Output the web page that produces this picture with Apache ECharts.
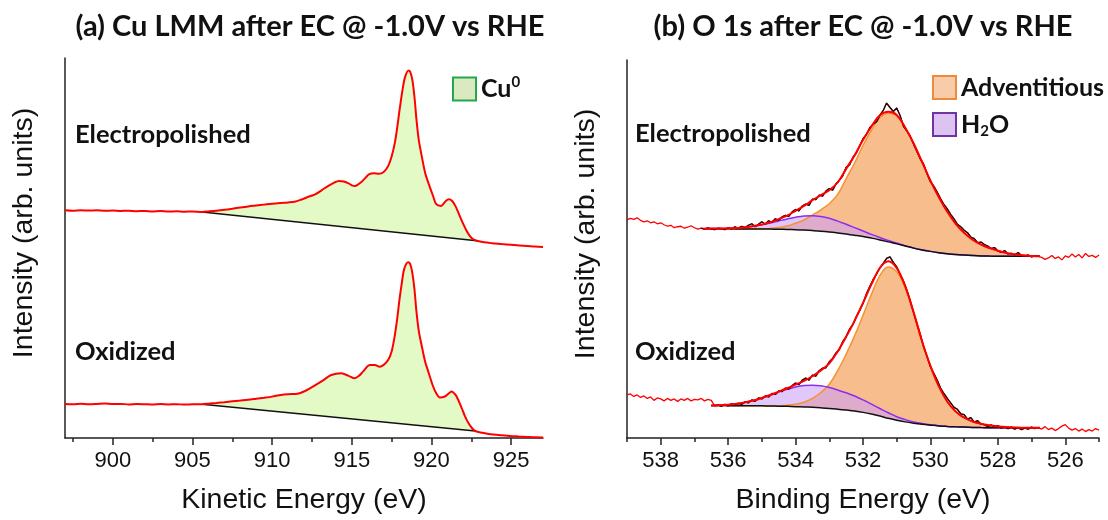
<!DOCTYPE html>
<html>
<head>
<meta charset="utf-8">
<script src="https://cdn.jsdelivr.net/npm/echarts@6/dist/echarts.min.js"></script>
<style>
  html, body { margin: 0; padding: 0; background: #fff; }
  #chart { width: 1108px; height: 520px; }
</style>
</head>
<body>
<div id="chart"></div>
<script>
// ---------- (a) Cu LMM Auger: kinetic energy (eV) / intensity (arb. units, stacked offsets) ----------
const cuKE_ep = [897.0, 897.5, 898.0, 898.5, 899.0, 899.5, 900.0, 900.5, 901.0, 901.5, 902.0, 902.5, 903.0, 903.5, 904.0, 904.5, 905.0, 905.6,
  906.0, 906.5, 907.0, 907.5, 908.0, 908.5, 909.0, 909.5, 910.0, 910.5, 911.0, 911.4, 911.8, 912.2, 912.7, 913.1, 913.5, 913.9,
  914.2, 914.5, 914.8, 915.0, 915.2, 915.4, 915.6, 915.85, 916.1, 916.4, 916.7, 917.0, 917.28, 917.5, 917.7, 917.85, 918.0,
  918.2, 918.35, 918.56, 918.66, 918.8, 918.93, 919.06, 919.2, 919.39, 919.6, 919.8, 920.1, 920.3, 920.6, 920.9, 921.1, 921.3,
  921.5, 921.77, 922.0, 922.2, 922.4, 922.6, 922.84, 923.3, 923.8, 924.4, 925.0, 925.5, 926.0, 926.5, 927.0];
const cuInt_ep = [229.0, 228.5, 229.0, 228.6, 228.9, 228.4, 228.7, 228.2, 228.5, 228.0, 228.3, 227.8, 228.1, 227.6, 227.9, 227.5, 227.7, 227.3,
  227.8, 228.5, 229.4, 230.5, 231.7, 232.8, 233.7, 234.6, 235.5, 236.2, 236.8, 237.5, 239.5, 242.0, 245.0, 249.0, 253.3, 256.8,
  258.3, 257.8, 256.0, 254.0, 253.3, 255.0, 257.3, 261.5, 265.3, 266.2, 265.7, 267.5, 273.3, 283.0, 296.7, 312.0, 330.0,
  351.7, 363.3, 369.5, 368.3, 360.0, 343.3, 320.0, 300.0, 283.3, 266.7, 256.7, 243.3, 235.0, 233.3, 238.3, 240.0, 238.3,
  233.3, 223.3, 215.0, 208.3, 203.3, 200.0, 198.3, 196.7, 195.8, 195.0, 194.2, 193.5, 193.0, 192.4, 192.0];
const cuBg_ep = [[905.6, 227.3], [922.84, 198.3]];

const cuKE_ox = [897.0, 897.5, 898.0, 898.5, 899.0, 899.5, 900.0, 900.5, 901.0, 901.5, 902.0, 902.5, 903.0, 903.5, 904.0, 904.5, 905.0, 905.6,
  906.0, 906.5, 907.0, 907.5, 908.0, 908.5, 909.0, 909.5, 910.0, 910.56, 911.0, 911.6, 912.1, 912.66, 913.2, 913.71, 914.34,
  914.8, 915.18, 915.45, 915.7, 916.12, 916.45, 916.75, 917.0, 917.28, 917.5, 917.7, 917.85, 918.0, 918.15, 918.29, 918.54,
  918.66, 918.79, 918.93, 919.06, 919.2, 919.38, 919.6, 919.8, 920.1, 920.3, 920.53, 920.84, 921.1, 921.27, 921.45, 921.58,
  921.9, 922.1, 922.32, 922.55, 922.75, 923.2, 923.58, 924.4, 925.0, 925.5, 926.0, 926.5, 927.0];
const cuInt_ox = [34.3, 34.0, 34.4, 33.9, 34.2, 34.6, 34.1, 34.3, 33.8, 34.2, 34.0, 33.7, 34.1, 33.8, 34.0, 33.6, 33.9, 34.0,
  34.5, 35.2, 36.0, 36.9, 37.7, 38.5, 39.5, 40.5, 41.6, 43.3, 44.0, 44.5, 47.5, 52.7, 58.0, 63.3, 65.0,
  62.5, 60.0, 62.5, 66.7, 73.3, 73.5, 71.7, 73.5, 78.3, 87.0, 103.3, 120.0, 140.0, 157.0, 170.0, 176.7,
  175.0, 166.7, 150.0, 126.7, 108.0, 93.3, 77.0, 66.7, 52.0, 45.0, 40.7, 41.7, 45.0, 46.7, 44.5, 41.7,
  30.0, 22.0, 15.0, 9.8, 7.0, 5.2, 4.0, 2.7, 2.0, 1.5, 1.1, 0.7, 0.5];
const cuBg_ox = [[905.6, 34.0], [922.75, 7.0]];

const keTicks = [900, 905, 910, 915, 920, 925];
const keMinor = [897.5, 902.5, 907.5, 912.5, 917.5, 922.5];

// ---------- (b) O 1s: binding energy (eV) ----------
// peak-fit grid, Shirley background and component heights above it
const o1sGrid_ep = [536.75, 536.5, 536.25, 536.0, 535.75, 535.5, 535.25, 535.0, 534.75, 534.5, 534.25, 534.0, 533.75, 533.5,
  533.25, 533.0, 532.75, 532.5, 532.25, 532.0, 531.75, 531.5, 531.25, 531.0, 530.75, 530.5, 530.25, 530.0, 529.75, 529.5,
  529.25, 529.0, 528.75, 528.5, 528.25, 528.0, 527.75, 527.5, 527.25, 527.0, 526.75];
const o1sBg_ep = [211.5, 211.5, 211.4, 211.4, 211.3, 211.3, 211.3, 211.2, 211.1, 211.0, 210.8, 210.5, 210.1, 209.6,
  209.0, 208.2, 207.2, 206.1, 204.9, 203.6, 202.0, 200.2, 198.2, 196.2, 194.0, 191.9, 190.1, 188.6, 187.3, 186.3,
  185.5, 184.9, 184.4, 184.0, 183.8, 183.7, 183.6, 183.6, 183.6, 183.6, 183.6];
const o1sAdv_ep = [0, 0, 0, 0, 0, 0, 0.1, 0.3, 0.7, 1.8, 3.4, 6.5, 10.2, 15.7,
  21.6, 28.5, 39.0, 56.0, 73.0, 92.0, 109.0, 123.5, 130.0, 129.5, 119.5, 105.8, 89.0, 71.5, 56.0, 42.3,
  31.0, 22.5, 15.9, 11.5, 8.2, 5.6, 3.4, 2.1, 1.1, 0.4, 0.1];
const o1sH2O_ep = [0, 0.1, 0.2, 0.5, 0.9, 1.7, 2.8, 4.3, 6.2, 8.4, 10.6, 12.6, 14.2, 15.0,
  14.8, 13.8, 12.0, 9.9, 7.7, 5.6, 3.8, 2.4, 1.4, 0.8, 0.4, 0.2, 0.1, 0, 0, 0,
  0, 0, 0, 0, 0, 0, 0, 0, 0, 0, 0];

const o1sGrid_ox = [536.5, 536.25, 536.0, 535.75, 535.5, 535.25, 535.0, 534.75, 534.5, 534.25, 534.0, 533.75, 533.5,
  533.25, 533.0, 532.75, 532.5, 532.25, 532.0, 531.75, 531.5, 531.25, 531.0, 530.75, 530.5, 530.25, 530.0, 529.75, 529.5,
  529.25, 529.0, 528.75, 528.5, 528.25, 528.0, 527.75, 527.5, 527.25, 527.0, 526.75];
const o1sBg_ox = [32.8, 32.8, 32.7, 32.7, 32.7, 32.6, 32.5, 32.4, 32.2, 32.0, 31.7, 31.4, 31.0,
  30.5, 29.9, 29.1, 28.2, 27.2, 25.9, 24.2, 22.2, 19.9, 17.9, 16.3, 15.0, 13.9, 13.0, 12.2, 11.7,
  11.3, 11.0, 10.7, 10.5, 10.4, 10.3, 10.3, 10.3, 10.3, 10.3, 10.3];
const o1sAdv_ox = [0, 0, 0, 0, 0, 0, 0, 0, 0.4, 1.0, 2.4, 4.8, 9.0,
  15.5, 24.5, 39.0, 56.5, 76.0, 98.0, 121.0, 142.0, 153.0, 150.0, 135.0, 111.0, 83.5, 59.5, 39.8, 25.0,
  15.5, 9.5, 6.0, 3.8, 2.4, 1.4, 0.7, 0.3, 0.1, 0, 0];
const o1sH2O_ox = [0.1, 0.3, 0.9, 1.8, 3.3, 5.3, 8.0, 11.0, 14.2, 17.3, 19.9, 21.6, 22.4,
  22.3, 21.1, 19.4, 17.5, 15.2, 12.6, 10.0, 7.6, 5.6, 3.6, 2.3, 1.3, 0.7, 0.3, 0.1, 0,
  0, 0, 0, 0, 0, 0, 0, 0, 0, 0, 0];

// measured O 1s spectra, 0.1 eV steps
const o1sRawBE = [
  539.0, 538.9, 538.8, 538.7, 538.6, 538.5, 538.4, 538.3, 538.2, 538.1,
  538.0, 537.9, 537.8, 537.7, 537.6, 537.5, 537.4, 537.3, 537.2, 537.1,
  537.0, 536.9, 536.8, 536.7, 536.6, 536.5, 536.4, 536.3, 536.2, 536.1,
  536.0, 535.9, 535.8, 535.7, 535.6, 535.5, 535.4, 535.3, 535.2, 535.1,
  535.0, 534.9, 534.8, 534.7, 534.6, 534.5, 534.4, 534.3, 534.2, 534.1,
  534.0, 533.9, 533.8, 533.7, 533.6, 533.5, 533.4, 533.3, 533.2, 533.1,
  533.0, 532.9, 532.8, 532.7, 532.6, 532.5, 532.4, 532.3, 532.2, 532.1,
  532.0, 531.9, 531.8, 531.7, 531.6, 531.5, 531.4, 531.3, 531.2, 531.1,
  531.0, 530.9, 530.8, 530.7, 530.6, 530.5, 530.4, 530.3, 530.2, 530.1,
  530.0, 529.9, 529.8, 529.7, 529.6, 529.5, 529.4, 529.3, 529.2, 529.1,
  529.0, 528.9, 528.8, 528.7, 528.6, 528.5, 528.4, 528.3, 528.2, 528.1,
  528.0, 527.9, 527.8, 527.7, 527.6, 527.5, 527.4, 527.3, 527.2, 527.1,
  527.0, 526.9, 526.8, 526.7, 526.6, 526.5, 526.4, 526.3, 526.2, 526.1,
  526.0, 525.9, 525.8, 525.7, 525.6, 525.5, 525.4, 525.3, 525.2, 525.1,
  525.0];
const o1sRaw_ep = [
  220.5, 222.0, 221.0, 222.5, 220.0, 218.5, 219.5, 217.5, 218.5, 216.5,
  217.5, 215.5, 214.0, 215.0, 212.5, 213.5, 214.0, 212.0, 213.0, 214.5,
  212.5, 211.0, 212.0, 211.0, 212.5, 211.0, 210.5, 212.0, 211.5, 210.5,
  212.5, 211.0, 213.5, 212.0, 214.0, 212.5, 215.0, 216.5, 213.5, 216.0,
  218.5, 216.0, 219.5, 218.0, 221.5, 220.0, 223.5, 225.0, 224.0, 228.5,
  231.0, 229.5, 234.5, 236.5, 235.0, 241.5, 241.0, 245.5, 244.5, 249.5,
  252.0, 250.5, 257.0, 260.5, 265.0, 273.5, 276.0, 283.5, 288.0, 295.0,
  302.5, 306.5, 313.5, 317.0, 319.5, 326.0, 331.0, 338.5, 334.0, 330.0,
  333.5, 326.0, 315.0, 310.5, 305.0, 297.0, 289.5, 282.0, 276.5, 267.0,
  259.0, 254.5, 248.5, 242.0, 236.0, 231.5, 226.0, 221.5, 216.0, 213.5,
  210.0, 207.5, 203.0, 201.5, 197.5, 198.0, 195.5, 194.0, 191.5, 192.5,
  189.0, 187.5, 189.5, 186.0, 186.5, 185.0, 187.5, 184.5, 183.5, 185.0,
  183.0, 184.0, 183.5, 182.5, 180.5, 182.0, 184.5, 181.5, 183.0, 180.0,
  184.0, 182.5, 186.0, 183.0, 185.5, 182.0, 186.5, 183.5, 184.5, 182.5,
  185.0];
const o1sRaw_ox = [
  43.5, 44.5, 42.0, 43.5, 41.0, 42.5, 40.0, 41.5, 38.0, 40.5,
  39.5, 37.5, 40.0, 38.0, 39.5, 37.0, 39.5, 38.0, 40.0, 37.5,
  39.0, 38.5, 40.0, 37.5, 39.0, 38.0, 32.5, 33.5, 32.0, 34.0,
  32.5, 34.5, 33.0, 35.0, 34.0, 36.5, 35.5, 38.5, 37.0, 40.5,
  39.5, 42.5, 41.5, 45.0, 44.0, 47.5, 47.0, 50.5, 49.5, 53.0,
  55.5, 54.0, 58.5, 60.5, 58.5, 63.5, 62.5, 68.0, 70.5, 71.0,
  77.0, 80.5, 86.0, 89.5, 97.5, 102.5, 110.0, 114.5, 122.5, 129.0,
  136.0, 145.5, 153.0, 160.0, 165.5, 172.0, 176.5, 181.5, 183.0, 177.5,
  173.0, 165.5, 158.5, 149.5, 138.5, 127.0, 115.5, 104.5, 92.0, 82.5,
  72.0, 65.5, 58.5, 50.5, 45.0, 40.0, 35.5, 31.0, 29.0, 24.5,
  23.5, 19.0, 20.5, 16.0, 17.5, 14.0, 13.5, 11.5, 13.0, 11.0,
  12.5, 10.0, 11.5, 9.5, 11.0, 9.0, 10.5, 8.5, 10.0, 9.0,
  11.0, 9.5, 10.5, 9.0, 11.5, 8.5, 10.0, 7.5, 9.5, 12.0,
  13.5, 10.0, 8.0, 9.5, 7.0, 9.0, 6.5, 8.5, 7.0, 9.5,
  8.0];
// energy window of the fitted region
const o1sFitWindow_ep = [526.8, 536.8];
const o1sFitWindow_ox = [526.9, 536.4];

const beTicks = [538, 536, 534, 532, 530, 528, 526];
const beMinor = [539, 537, 535, 533, 531, 529, 527, 525];

// ---------- helpers ----------
const zip = (xs, ys) => xs.map((x, i) => [x, ys[i]]);
// intensity first, so that stacking acts on the intensity column
const zipStack = (xs, ys) => xs.map((x, i) => [ys[i], x]);
const inWindow = (pts, lo, hi) => pts.filter(p => p[0] >= lo - 1e-9 && p[0] <= hi + 1e-9);

const RED = '#ff0000';
const BLACK = '#111111';
const AXIS = '#222222';
const GREEN_FILL = '#e3fac6';
const ORANGE_FILL = '#f8bd8c';
const ORANGE_LINE = '#f5922f';
const PURPLE_FILL = 'rgba(204, 160, 246, 0.58)';
const PURPLE_LINE = '#8b2cf0';
const LABEL_FONT = 'Lato';
const AXIS_FONT = 'Liberation Sans';

// area enclosed by a spectrum and its straight background line
function areaBand(name, pts, xi, yi, color) {
  return {
    type: 'custom', name, xAxisIndex: xi, yAxisIndex: yi, silent: true,
    itemStyle: { color },
    encode: { x: 0, y: 1 },
    data: pts,
    renderItem(params, api) {
      if (params.dataIndexInside !== 0) return null;
      const points = [];
      for (let i = 0; i < params.dataInsideLength; i++) {
        points.push(api.coord([api.value(0, i), api.value(1, i)]));
      }
      return { type: 'polygon', shape: { points }, style: { fill: color } };
    }
  };
}

function line(name, data, xi, yi, color, width, smooth, extra) {
  return Object.assign({
    type: 'line', name, data, xAxisIndex: xi, yAxisIndex: yi,
    showSymbol: false, symbol: 'none', silent: true, smooth,
    lineStyle: { color, width }, itemStyle: { color }
  }, extra || {});
}

// O 1s trace: stacked component fills on a Shirley background, fit envelope and measured data
function o1sSeries(tag, grid, bg, adv, h2o, raw, win) {
  const env = bg.map((b, i) => +(b + adv[i] + h2o[i]).toFixed(2));
  const stackEnc = { x: 1, y: 0 };
  const hidden = { lineStyle: { width: 0, opacity: 0 }, encode: stackEnc };
  return [
    line('bgAdv' + tag, zipStack(grid, bg), 2, 1, BLACK, 0, 0.4, Object.assign({ stack: 'adv' + tag }, hidden)),
    line('Adventitious', zipStack(grid, adv), 2, 1, ORANGE_LINE, 1.5, 0.4,
      { stack: 'adv' + tag, encode: stackEnc, areaStyle: { color: ORANGE_FILL, opacity: 1 } }),
    line('bgH2O' + tag, zipStack(grid, bg), 2, 1, BLACK, 0, 0.4, Object.assign({ stack: 'h2o' + tag }, hidden)),
    line('H2O', zipStack(grid, h2o), 2, 1, PURPLE_LINE, 1.5, 0.4,
      { stack: 'h2o' + tag, encode: stackEnc, areaStyle: { color: PURPLE_FILL, opacity: 1 } }),
    line('background' + tag, zip(grid, bg), 2, 1, BLACK, 1.5, 0.4),
    line('data' + tag, zip(o1sRawBE, raw), 2, 1, RED, 1.3, false),
    line('dataFit' + tag, inWindow(zip(o1sRawBE, raw), win[0], win[1]), 2, 1, BLACK, 1.3, false),
    line('envelope' + tag, zip(grid, env), 2, 1, RED, 2, 0.4)
  ];
}

function cuSeries(tag, ke, intensity, bg) {
  const pts = zip(ke, intensity);
  return [
    areaBand('Cu0', inWindow(pts, bg[0][0], bg[1][0]), 0, 0, GREEN_FILL),
    line('cuBackground' + tag, bg, 0, 0, BLACK, 1.5, false),
    line('cuData' + tag, pts, 0, 0, RED, 2, 0.3)
  ];
}

// ---------- axes ----------
const tickLabel = { fontFamily: AXIS_FONT, fontSize: 22, color: '#111', margin: 12 };
const axisName = { fontFamily: AXIS_FONT, fontSize: 28.5, color: '#111' };

function mainX(grid, min, max, ticks, name, inverse) {
  return {
    type: 'value', gridIndex: grid, min, max, inverse, position: 'bottom',
    name, nameLocation: 'middle', nameGap: 48, nameTextStyle: axisName,
    axisLine: { show: true, onZero: false, lineStyle: { color: AXIS, width: 1.5 } },
    axisTick: { show: true, customValues: ticks, length: 7, lineStyle: { color: AXIS, width: 1.5 } },
    axisLabel: Object.assign({ customValues: ticks }, tickLabel),
    splitLine: { show: false }
  };
}
function minorX(grid, min, max, ticks, inverse) {
  return {
    type: 'value', gridIndex: grid, min, max, inverse, position: 'bottom',
    axisLine: { show: false, onZero: false },
    axisTick: { show: true, customValues: ticks, length: 4, lineStyle: { color: AXIS, width: 1.5 } },
    axisLabel: { show: false }, splitLine: { show: false }
  };
}
function yAx(grid) {
  return {
    type: 'value', gridIndex: grid, min: 0, max: 382,
    name: 'Intensity (arb. units)', nameLocation: 'middle', nameGap: 26,
    nameTextStyle: Object.assign({ padding: [0, 0, 0, 30] }, axisName),
    axisLine: { show: true, lineStyle: { color: AXIS, width: 1.5 } },
    axisTick: { show: false }, axisLabel: { show: false }, splitLine: { show: false }
  };
}

const richLegend = {
  t: { fontFamily: LABEL_FONT, fontWeight: 'bold', fontSize: 25, color: '#111', lineHeight: 28 },
  sup: { fontFamily: LABEL_FONT, fontWeight: 'bold', fontSize: 15, color: '#111', lineHeight: 16, verticalAlign: 'top' },
  sub: { fontFamily: LABEL_FONT, fontWeight: 'bold', fontSize: 15, color: '#111', lineHeight: 16, verticalAlign: 'bottom' }
};
function legendText(name) {
  if (name === 'Cu0') return '{t|Cu}{sup|0}';
  if (name === 'H2O') return '{t|H}{sub|2}{t|O}';
  return '{t|' + name + '}';
}

const titleStyle = { fontFamily: LABEL_FONT, fontWeight: 'bold', fontSize: 29, color: '#111' };
const sampleLabel = (x, y, text) => ({
  type: 'text', x, y, silent: true,
  style: { text, fontFamily: LABEL_FONT, fontWeight: 'bold', fontSize: 25.5, fill: '#111', verticalAlign: 'middle' }
});

const chart = echarts.init(document.getElementById('chart'), null, { renderer: 'canvas' });
chart.setOption({
  animation: false,
  backgroundColor: '#ffffff',
  title: [
    { text: '(a) Cu LMM after EC @ -1.0V vs RHE', left: 310, top: 12, textAlign: 'center', padding: 0, textStyle: titleStyle },
    { text: '(b) O 1s after EC @ -1.0V vs RHE', left: 863, top: 12, textAlign: 'center', padding: 0, textStyle: titleStyle }
  ],
  legend: [
    {
      left: 452, top: 75, padding: 0, itemWidth: 23, itemHeight: 23, selectedMode: false,
      data: [{ name: 'Cu0', icon: 'rect', itemStyle: { color: '#dbe9c0', borderColor: '#22a84b', borderWidth: 2 } }],
      formatter: legendText, textStyle: { rich: richLegend }
    },
    {
      left: 932, top: 75, padding: 0, orient: 'vertical', itemGap: 12, itemWidth: 23, itemHeight: 23, selectedMode: false,
      data: [
        { name: 'Adventitious', icon: 'rect', itemStyle: { color: '#f8cbab', borderColor: '#ef8a3a', borderWidth: 2 } },
        { name: 'H2O', icon: 'rect', itemStyle: { color: '#dcc3f1', borderColor: '#7232a3', borderWidth: 2 } }
      ],
      formatter: legendText, textStyle: { rich: richLegend }
    }
  ],
  grid: [
    { left: 65, top: 58, width: 478, height: 382 },
    { left: 627, top: 60, width: 472, height: 382 }
  ],
  xAxis: [
    mainX(0, 897, 927, keTicks, 'Kinetic Energy (eV)', false),
    minorX(0, 897, 927, keMinor, false),
    mainX(1, 525, 539, beTicks, 'Binding Energy (eV)', true),
    minorX(1, 525, 539, beMinor, true)
  ],
  yAxis: [yAx(0), yAx(1)],
  graphic: [
    sampleLabel(75, 135, 'Electropolished'),
    sampleLabel(75, 352, 'Oxidized'),
    sampleLabel(635, 134, 'Electropolished'),
    sampleLabel(635, 352, 'Oxidized')
  ],
  series: [].concat(
    cuSeries('EP', cuKE_ep, cuInt_ep, cuBg_ep),
    cuSeries('OX', cuKE_ox, cuInt_ox, cuBg_ox),
    o1sSeries('EP', o1sGrid_ep, o1sBg_ep, o1sAdv_ep, o1sH2O_ep, o1sRaw_ep, o1sFitWindow_ep),
    o1sSeries('OX', o1sGrid_ox, o1sBg_ox, o1sAdv_ox, o1sH2O_ox, o1sRaw_ox, o1sFitWindow_ox)
  )
});
</script>
</body>
</html>
